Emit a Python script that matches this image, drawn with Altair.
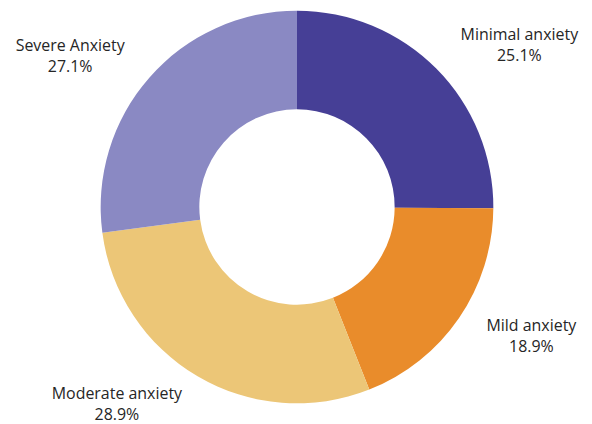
import altair as alt
import pandas as pd

categories = ["Minimal anxiety", "Mild anxiety", "Moderate anxiety", "Severe Anxiety"]
values = [25.1, 18.9, 28.9, 27.1]
colors = ["#463f96", "#e98c2b", "#ecc677", "#8a89c3"]

df = pd.DataFrame({
    "category": categories,
    "value": values,
    "order": list(range(len(categories))),
    "label": [f"{c}\n{v:.1f}%" for c, v in zip(categories, values)],
})

base = alt.Chart(df).encode(
    theta=alt.Theta("value:Q", stack=True),
    order=alt.Order("order:Q"),
)

arcs = base.mark_arc(outerRadius=197, innerRadius=98, stroke=None).encode(
    color=alt.Color("category:N", scale=alt.Scale(domain=categories, range=colors), legend=None)
)

# label nudges (style) per category
nudges = {
    "Minimal anxiety": (33, 16),
    "Mild anxiety": (14, -32),
    "Moderate anxiety": (-45, -43),
    "Severe Anxiety": (-26, 15),
}

layers = [arcs]
for cat in categories:
    ddx, ddy = nudges[cat]
    layers.append(
        base.mark_text(radius=268, fontSize=16, font="Open Sans", color="#262626",
                       lineBreak="\n", align="center", baseline="middle", lineHeight=21,
                       dx=ddx, dy=ddy).encode(
            text="label:N",
            opacity=alt.condition(alt.datum.category == cat, alt.value(1), alt.value(0)),
        )
    )

chart = alt.layer(*layers).properties(
    width=592, height=414,
    padding={"left": 2, "top": 0, "right": 0, "bottom": 10},
    autosize=alt.AutoSizeParams(type="none"),
).configure_view(stroke=None, clip=False).configure(background="white")

chart.save("out.html", embed_options={"renderer": "svg", "actions": False})
